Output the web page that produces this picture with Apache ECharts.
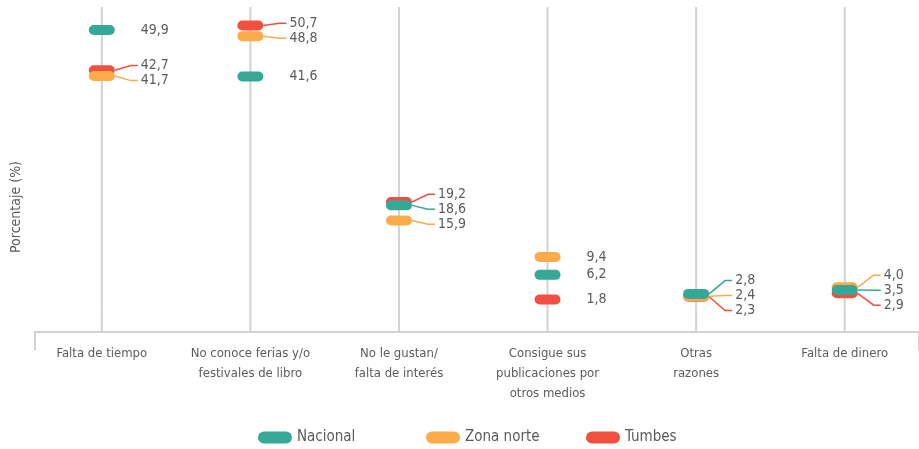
<!DOCTYPE html>
<html>
<head>
<meta charset="utf-8">
<style>
  html, body { margin: 0; padding: 0; background: #ffffff; }
  #chart { width: 919px; height: 449px; }
</style>
<script src="https://cdn.jsdelivr.net/npm/echarts@6/dist/echarts.min.js"></script>
</head>
<body>
<div id="chart"></div>
<script>
// ---- Data ----
const categories = [
  'Falta de tiempo',
  'No conoce ferias y/o\nfestivales de libro',
  'No le gustan/\nfalta de interés',
  'Consigue sus\npublicaciones por\notros medios',
  'Otras\nrazones',
  'Falta de dinero'
];
const seriesNames = ['Nacional', 'Zona norte', 'Tumbes'];
const nacional  = [49.9, 41.6, 18.6, 6.2, 2.8, 3.5];
const zonaNorte = [41.7, 48.8, 15.9, 9.4, 2.4, 4.0];
const tumbes    = [42.7, 50.7, 19.2, 1.8, 2.3, 2.9];
const yAxisTitle = 'Porcentaje (%)';

// ---- Style ----
const colors = ['#36A897', '#FBAB4A', '#F14F3F'];
const textColor = '#5b5b5b';
const guideColor = '#d2d2d2';
const FONT = "'Liberation Sans Narrow', 'DejaVu Sans Condensed', 'Roboto', sans-serif";
const Y_MIN = -4, Y_MAX = 54;
const GRID_TOP = 7, GRID_BOTTOM = 117, CHART_H = 449;
const PLOT_H = CHART_H - GRID_TOP - GRID_BOTTOM;
const PPU = PLOT_H / (Y_MAX - Y_MIN);   // pixels per unit of the value axis
const LABEL_GAP = 15;
const PILL_W = 26, PILL_H = 10, LABEL_DIST = 26;

const allSeries = [nacional, zonaNorte, tumbes];
const pill = 'path://M5,0H21A5,5,0,0,1,21,10H5A5,5,0,0,1,5,0Z';
const legendPill = 'path://M6,0H28A6,6,0,0,1,28,12H6A6,6,0,0,1,6,0Z';

function fmt(v) { return v.toFixed(1).replace('.', ','); }

// Vertical pixel offsets that keep the value labels of one category apart.
// Returns {off: [dy per series], moved: [bool per series]}
function labelOffsets(ci) {
  const ys = allSeries.map(s => -(s[ci] - Y_MIN) * PPU);
  const order = [0, 1, 2].sort((a, b) => ys[a] - ys[b]);
  let clusters = order.map(idx => [idx]);
  const place = c => {
    const m = c.reduce((s, idx) => s + ys[idx], 0) / c.length;
    return c.map((idx, k) => m + (k - (c.length - 1) / 2) * LABEL_GAP);
  };
  let changed = true;
  while (changed) {
    changed = false;
    for (let k = 0; k < clusters.length - 1; k++) {
      const a = place(clusters[k]), b = place(clusters[k + 1]);
      if (a[a.length - 1] + LABEL_GAP > b[0]) {
        clusters.splice(k, 2, clusters[k].concat(clusters[k + 1]));
        changed = true;
        break;
      }
    }
  }
  const off = [0, 0, 0], moved = [false, false, false];
  clusters.forEach(c => {
    const pos = place(c);
    c.forEach((idx, k) => { off[idx] = pos[k] - ys[idx]; moved[idx] = c.length > 1; });
  });
  return { off, moved };
}

const scatterSeries = seriesNames.map((name, i) => ({
  name: name,
  type: 'scatter',
  xAxisIndex: 0,
  yAxisIndex: 0,
  data: allSeries[i],
  symbol: pill,
  symbolSize: [PILL_W, PILL_H],
  z: 10 - i,
  itemStyle: { color: colors[i], opacity: 1 },
  label: {
    show: true,
    position: 'right',
    distance: LABEL_DIST,
    fontSize: 14,
    fontFamily: FONT,
    color: textColor,
    formatter: p => fmt(p.value)
  },
  labelLayout: function (params) {
    const r = labelOffsets(params.dataIndex);
    return r.moved[i] ? { dy: r.off[i] } : {};
  },
  emphasis: { disabled: true }
}));

// Leader lines for labels that had to be moved
const leaderSeries = seriesNames.map((name, i) => ({
  type: 'custom',
  name: name + ' guía',
  xAxisIndex: 0,
  yAxisIndex: 0,
  silent: true,
  z: 5,
  data: allSeries[i].map((v, ci) => [ci, v]),
  renderItem: function (params, api) {
    const ci = api.value(0);
    const r = labelOffsets(ci);
    if (!r.moved[i]) return null;
    const p = api.coord([ci, api.value(1)]);
    const x0 = p[0] + PILL_W / 2;
    const dy = r.off[i];
    return {
      type: 'polyline',
      shape: { points: [[x0, p[1]], [x0 + 16, p[1] + dy], [x0 + LABEL_DIST - 3, p[1] + dy]] },
      style: { stroke: colors[i], lineWidth: 1.5, fill: null }
    };
  }
}));

const guideTop = categories.map(() => Y_MAX);
const guideBottom = categories.map(() => Y_MIN);

const legendLefts = [253, 421, 581];
const legends = seriesNames.map((name, i) => ({
  data: [name],
  left: legendLefts[i],
  top: 425,
  itemWidth: 34,
  itemHeight: 12,
  icon: legendPill,
  textStyle: { fontSize: 15, color: textColor, fontFamily: FONT },
  selectedMode: false
}));

const option = {
  animation: false,
  textStyle: { fontFamily: FONT },
  grid: [
    { left: 27.5, right: -2.5, top: GRID_TOP, bottom: GRID_BOTTOM },
    { left: 35, right: -8, top: 82, bottom: GRID_BOTTOM }
  ],
  legend: legends,
  xAxis: [
    {
      type: 'category',
      gridIndex: 0,
      data: categories,
      boundaryGap: true,
      axisLine: { show: false },
      axisTick: { show: false },
      splitLine: { show: false },
      axisLabel: {
        interval: 0,
        margin: 12,
        fontSize: 13,
        lineHeight: 20,
        color: textColor,
        fontFamily: FONT
      }
    },
    {
      type: 'value',
      gridIndex: 1,
      min: 0, max: 1, interval: 1,
      axisLine: { show: true, lineStyle: { color: guideColor, width: 2 } },
      axisTick: { show: true, length: 18, lineStyle: { color: guideColor, width: 2 } },
      axisLabel: { show: false },
      splitLine: { show: false }
    }
  ],
  yAxis: [
    {
      type: 'value',
      gridIndex: 0,
      min: Y_MIN, max: Y_MAX,
      show: false
    },
    {
      type: 'value',
      gridIndex: 1,
      min: 0, max: 1,
      axisLine: { show: false },
      axisTick: { show: false },
      axisLabel: { show: false },
      splitLine: { show: false },
      name: yAxisTitle,
      nameLocation: 'middle',
      nameGap: 12,
      nameTextStyle: { fontSize: 14, color: textColor, fontFamily: FONT }
    }
  ],
  series: scatterSeries.concat(leaderSeries, [
    {
      type: 'bar', stack: 'guide', xAxisIndex: 0, yAxisIndex: 0,
      data: guideTop, barWidth: 2, silent: true, z: 1,
      itemStyle: { color: guideColor }, emphasis: { disabled: true }
    },
    {
      type: 'bar', stack: 'guide', xAxisIndex: 0, yAxisIndex: 0,
      data: guideBottom, barWidth: 2, silent: true, z: 1,
      itemStyle: { color: guideColor }, emphasis: { disabled: true }
    }
  ])
};

const chart = echarts.init(document.getElementById('chart'), null, { renderer: 'canvas' });
chart.setOption(option);
</script>
</body>
</html>
